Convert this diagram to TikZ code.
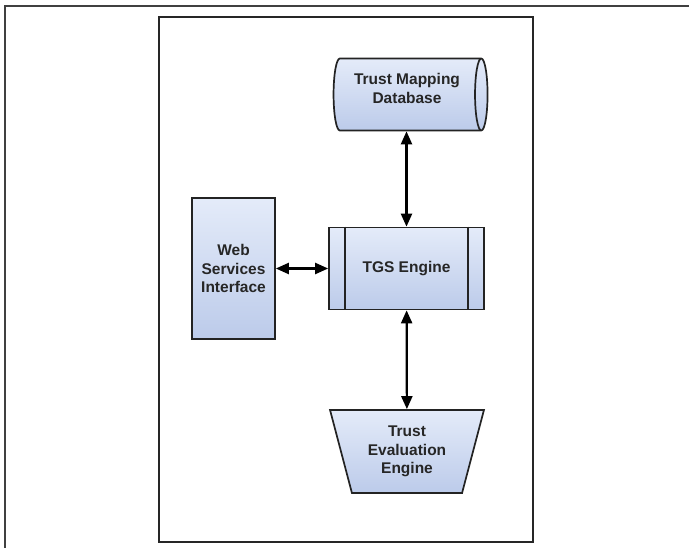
\documentclass[tikz,border=0pt]{standalone}
\usepackage{fontspec}
\setmainfont{Liberation Sans}
\usetikzlibrary{shapes.geometric,arrows.meta}
\definecolor{boxlight}{RGB}{228,235,249}
\definecolor{boxdark}{RGB}{188,203,234}
\definecolor{edge}{RGB}{35,35,35}
\tikzset{
  unit/.style={draw=edge, line width=1.7pt, top color=boxlight, bottom color=boxdark,
    font=\bfseries\fontsize{15.5}{18.5}\selectfont, align=center, text=black!85, inner sep=0pt},
  link/.style={line width=2.2pt, {Triangle[length=13pt,width=11pt]}-{Triangle[length=13pt,width=11pt]}},
}

\begin{document}
\begin{tikzpicture}[x=1pt,y=-1pt]
\useasboundingbox (0,0) rectangle (689,548);
\draw[line width=1.5pt, black!75] (5,548) -- (5,6) -- (689,6);
\draw[line width=2.3pt, black!85] (159,17) rectangle (533,542);
\node[unit, rectangle, minimum width=83pt, minimum height=141pt] (web) at (233.5,268.5) {Web\\Services\\Interface};
\node[unit, rectangle, minimum width=155pt, minimum height=82pt] (tgs) at (406.5,268.5) {TGS Engine};
\draw[line width=1.7pt, edge] ([xshift=17pt]tgs.north west) -- ([xshift=17pt]tgs.south west);
\draw[line width=1.7pt, edge] ([xshift=-17pt]tgs.north east) -- ([xshift=-17pt]tgs.south east);
\node[unit, cylinder, shape aspect=0.3, minimum width=72pt, minimum height=154pt] (db) at (407,94.5) {Trust Mapping\\Database\\[-6.5pt]};
\node[unit, trapezium, shape border rotate=180, trapezium angle=73, trapezium stretches=true,
  minimum width=154pt, minimum height=83pt] (eval) at (407,451.5) {Trust\\Evaluation\\Engine};
\draw[link] (web) -- (tgs);
\draw[link] (tgs.north |- db.south) -- (tgs.north);
\draw[link] (tgs) -- (eval);
\end{tikzpicture}
\end{document}
